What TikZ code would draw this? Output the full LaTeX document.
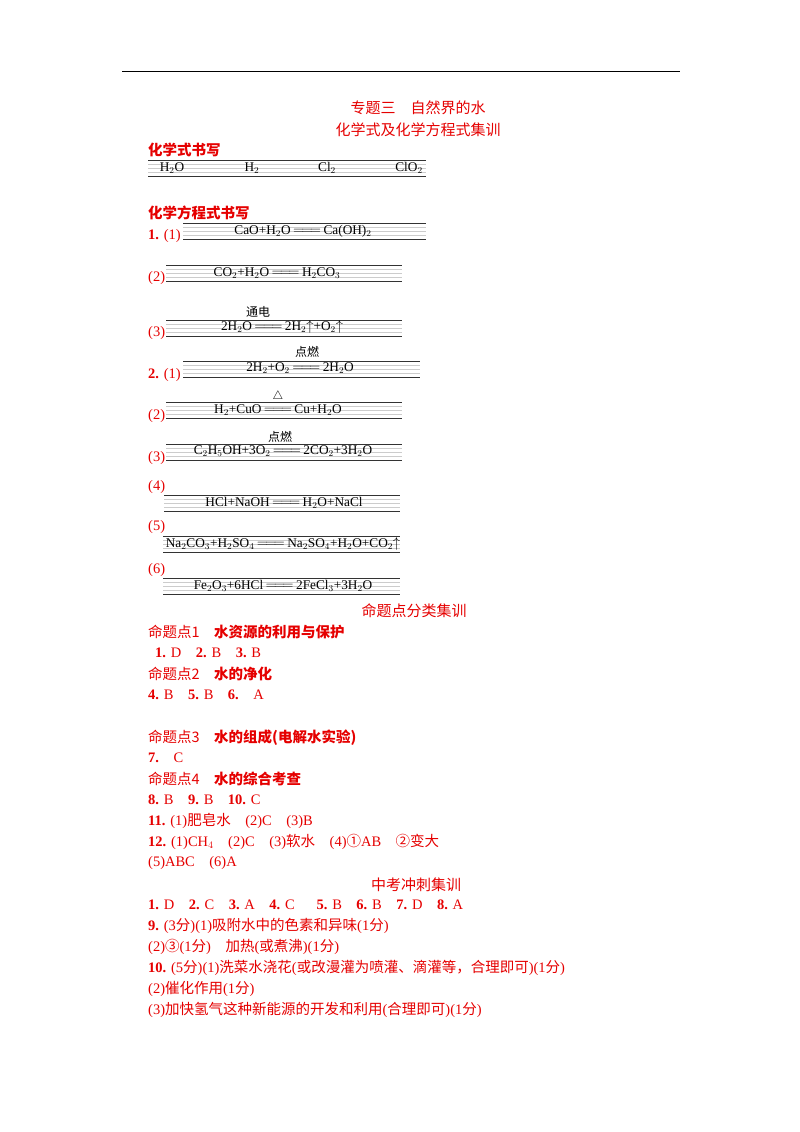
\documentclass[tikz,border=0pt]{standalone}
\usepackage{fontspec}
\setmainfont{Liberation Serif}
\newfontfamily\cjk{Noto Sans CJK SC}
\newcommand{\eqbox}[3]{%
  \foreach \d in {4,8,12}{\draw[gline] (#1,#3+\d) -- (#2,#3+\d);}
  \draw[dline] (#1,#3) -- (#2,#3);
  \draw[dline] (#1,#3+16) -- (#2,#3+16);}
\newcommand{\ch}[1]{{\cjk #1}}
\begin{document}
\begin{tikzpicture}[x=1pt,y=-1pt,
  red/.style={text=red!90!black,anchor=west,inner sep=0pt,font=\fontsize{14.5}{15}\selectfont},
  hd/.style={text=red!90!black,anchor=center,inner sep=0pt,font=\fontsize{15}{16}\selectfont},
  eq/.style={anchor=center,inner sep=0pt,font=\fontsize{13.3}{14}\selectfont},
  cond/.style={anchor=center,inner sep=0pt,font=\fontsize{12}{13}\selectfont},
  gline/.style={gray!40,line width=0.4pt},
  dline/.style={black!80,line width=0.8pt}]
\useasboundingbox (0,0) rectangle (800,1132);
\draw[line width=1pt] (122,72) -- (680,72);
\node[hd] (t1) at (418,108) {\ch{专题三　自然界的水}};
\node[hd] (t2) at (418,130) {\ch{化学式及化学方程式集训}};
\node[red] (s1) at (148,150) {\ch{\bfseries 化学式书写}};
\eqbox{148}{426}{160}
\node[eq] (f1) at (172,168) {H$_2$O};
\node[eq] (f2) at (252,168) {H$_2$};
\node[eq] (f3) at (327,168) {Cl$_2$};
\node[eq] (f4) at (409,168) {ClO$_2$};
\node[red] (s2) at (148,213) {\ch{\bfseries 化学方程式书写}};
% 1(1)
\node[red] (a1) at (148,236) {\textbf{1.} (1)};
\eqbox{183}{426}{223}
\node[eq] (e1) at (303,231) {CaO+H$_2$O$\,=\!=\!=\,$Ca(OH)$_2$};
% (2)
\node[red] (a2) at (148,278) {(2)};
\eqbox{166}{402}{265}
\node[eq] (e2) at (277,273) {CO$_2$+H$_2$O$\,=\!=\!=\,$H$_2$CO$_3$};
% (3)
\node[red] (a3) at (148,333) {(3)};
\node[cond] (c3) at (258,312) {\ch{通电}};
\eqbox{166}{402}{320}
\node[eq] (e3) at (282,327) {2H$_2$O$\,=\!=\!=\,$2H$_2$$\uparrow$+O$_2$$\uparrow$};
% 2(1)
\node[red] (b1) at (148,375) {\textbf{2.} (1)};
\node[cond] (c4) at (307,352) {\ch{点燃}};
\eqbox{183}{420}{361}
\node[eq] (e4) at (300,368) {2H$_2$+O$_2$$\,=\!=\!=\,$2H$_2$O};
% (2)
\node[red] (b2) at (148,416) {(2)};
\node[cond] (c5) at (278,396) {$\triangle$};
\eqbox{166}{402}{402}
\node[eq] (e5) at (278,410) {H$_2$+CuO$\,=\!=\!=\,$Cu+H$_2$O};
% (3)
\node[red] (b3) at (148,458) {(3)};
\node[cond] (c6) at (280,437) {\ch{点燃}};
\eqbox{166}{402}{444}
\node[eq] (e6) at (283,451) {C$_2$H$_5$OH+3O$_2$$\,=\!=\!=\,$2CO$_2$+3H$_2$O};
% (4)
\node[red] (b4) at (148,487) {(4)};
\eqbox{164}{400}{495}
\node[eq] (e7) at (284,503) {HCl+NaOH$\,=\!=\!=\,$H$_2$O+NaCl};
% (5)
\node[red] (b5) at (148,527) {(5)};
\eqbox{163}{400}{536}
\node[eq] (e8) at (283,544) {Na$_2$CO$_3$+H$_2$SO$_4$$\,=\!=\!=\,$Na$_2$SO$_4$+H$_2$O+CO$_2$$\uparrow$};
% (6)
\node[red] (b6) at (148,570) {(6)};
\eqbox{163}{400}{578}
\node[eq] (e9) at (283,586) {Fe$_2$O$_3$+6HCl$\,=\!=\!=\,$2FeCl$_3$+3H$_2$O};
% answers
\node[hd] (t3) at (414,611) {\ch{命题点分类集训}};
\node[red] (p1) at (148,632) {\ch{命题点1　\bfseries 水资源的利用与保护}};
\node[red] (l1) at (155,653) {\textbf{1.} D\quad \textbf{2.} B\quad \textbf{3.} B};
\node[red] (p2) at (148,674) {\ch{命题点2　\bfseries 水的净化}};
\node[red] (l2) at (148,695) {\textbf{4.} B\quad \textbf{5.} B\quad \textbf{6.}\quad A};
\node[red] (p3) at (148,738) {\ch{命题点3　\bfseries 水的组成(电解水实验)}};
\node[red] (l3) at (148,758) {\textbf{7.}\quad C};
\node[red] (p4) at (148,779) {\ch{命题点4　\bfseries 水的综合考查}};
\node[red] (l4) at (148,800) {\textbf{8.} B\quad \textbf{9.} B\quad \textbf{10.} C};
\node[red] (l5) at (148,821) {\textbf{11.} (1)\ch{肥皂水}\quad (2)C\quad (3)B};
\node[red] (l6) at (148,842) {\textbf{12.} (1)CH$_4$\quad (2)C\quad (3)\ch{软水}\quad (4)\ch{①}AB\quad \ch{②变大}};
\node[red] (l7) at (148,863) {(5)ABC\quad (6)A};
\node[hd] (t4) at (416,885) {\ch{中考冲刺集训}};
\node[red] (l8) at (148,905) {\textbf{1.} D\quad \textbf{2.} C\quad \textbf{3.} A\quad \textbf{4.} C\quad\ \ \textbf{5.} B\quad \textbf{6.} B\quad \textbf{7.} D\quad \textbf{8.} A};
\node[red] (l9) at (148,926) {\textbf{9.} (3\ch{分})(1)\ch{吸附水中的色素和异味}(1\ch{分})};
\node[red] (l10) at (148,947) {(2)\ch{③}(1\ch{分})\quad \ch{加热}(\ch{或煮沸})(1\ch{分})};
\node[red] (l11) at (148,968) {\textbf{10.} (5\ch{分})(1)\ch{洗菜水浇花}(\ch{或改漫灌为喷灌、滴灌等，合理即可})(1\ch{分})};
\node[red] (l12) at (148,989) {(2)\ch{催化作用}(1\ch{分})};
\node[red] (l13) at (148,1010) {(3)\ch{加快氢气这种新能源的开发和利用}(\ch{合理即可})(1\ch{分})};
\end{tikzpicture}
\end{document}
